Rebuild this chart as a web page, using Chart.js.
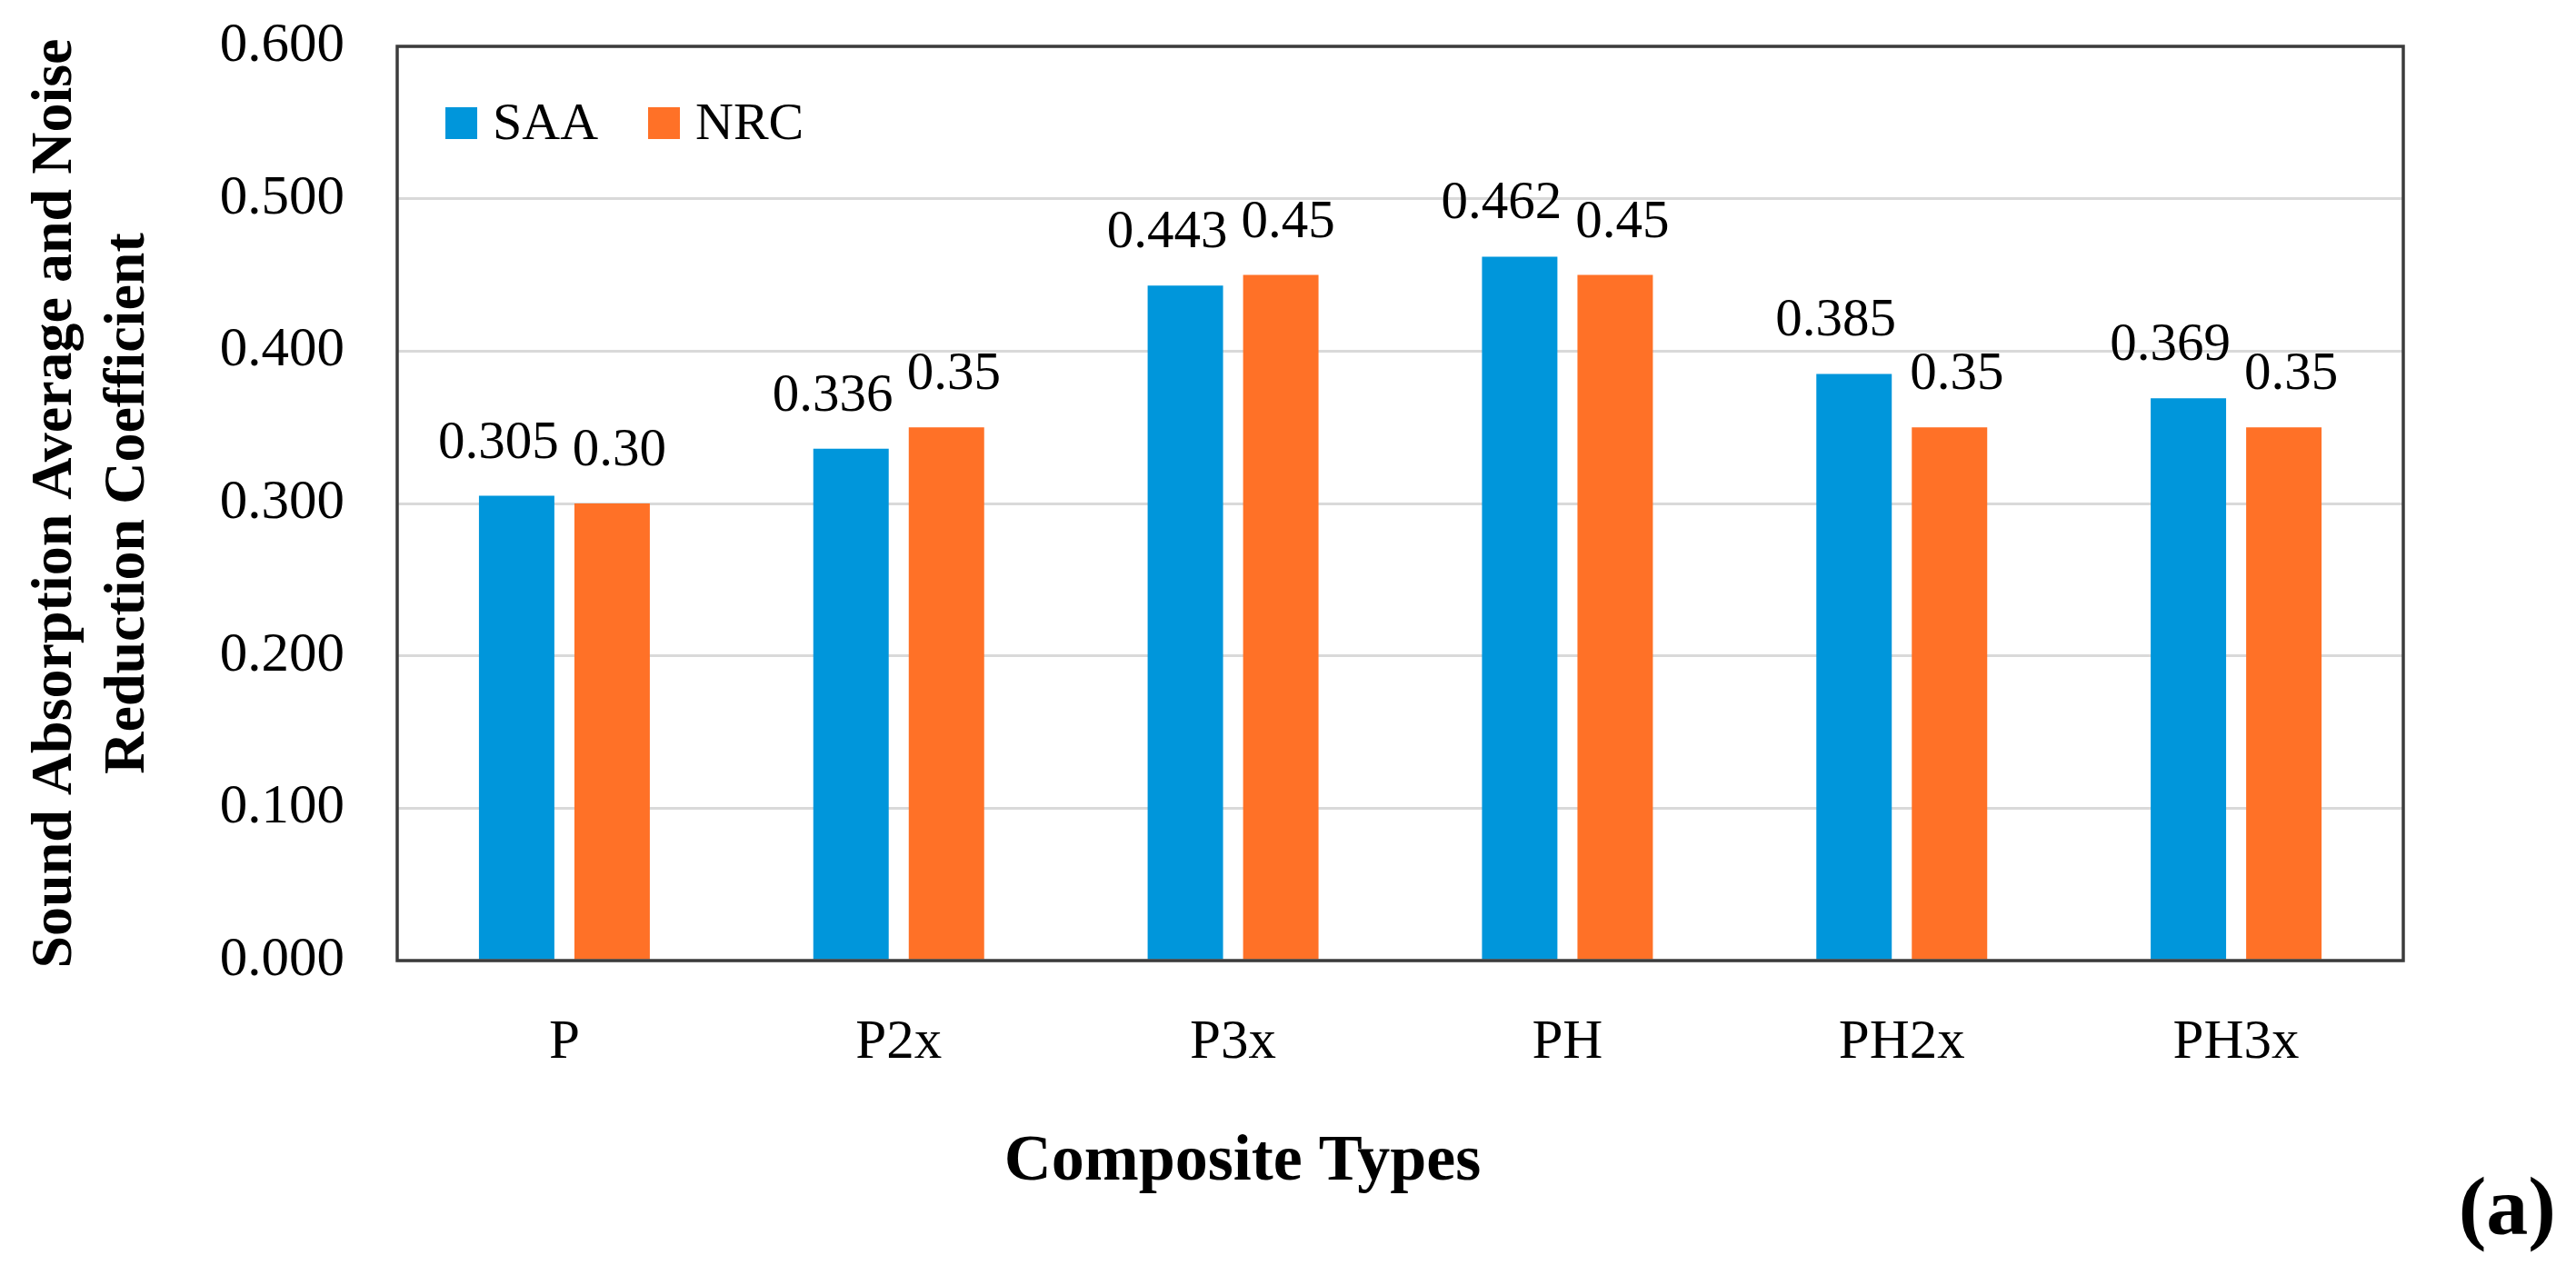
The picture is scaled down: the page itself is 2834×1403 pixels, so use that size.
<!DOCTYPE html>
<html lang="en">
<head>
<meta charset="UTF-8">
<title>Sound Absorption Average and Noise Reduction Coefficient</title>
<script src="https://cdn.jsdelivr.net/npm/chart.js"></script>
<style>
  html, body { margin: 0; padding: 0; background: #ffffff; }
  #wrap { width: 2834px; height: 1403px; }
</style>
</head>
<body>
<div id="wrap"><canvas id="chart" width="2834" height="1403"></canvas></div>
<script>
// data
const categories = ['P', 'P2x', 'P3x', 'PH', 'PH2x', 'PH3x'];
const saaValues = [0.305, 0.336, 0.443, 0.462, 0.385, 0.369];
const nrcValues = [0.30, 0.35, 0.45, 0.45, 0.35, 0.35];
const saaLabels = ['0.305', '0.336', '0.443', '0.462', '0.385', '0.369'];
const nrcLabels = ['0.30', '0.35', '0.45', '0.45', '0.35', '0.35'];
const yTickLabels = ['0.000', '0.100', '0.200', '0.300', '0.400', '0.500', '0.600'];

const SERIF = '"Liberation Serif", "Times New Roman", serif';
const BLUE = '#0096db';
const ORANGE = '#ff7127';

// value labels above each bar
const valueLabels = {
    id: 'valueLabels',
    afterDatasetsDraw(chart) {
        const ctx = chart.ctx;
        ctx.save();
        ctx.font = '59px ' + SERIF;
        ctx.fillStyle = '#000';
        ctx.textAlign = 'center';
        ctx.textBaseline = 'alphabetic';
        chart.data.datasets.forEach((ds, di) => {
            const meta = chart.getDatasetMeta(di);
            meta.data.forEach((bar, i) => {
                ctx.fillText(ds.valueText[i], bar.x + ds.labelShift, bar.y - 42);
            });
        });
        ctx.restore();
    }
};

// dark frame round the plot area
const plotFrame = {
    id: 'plotFrame',
    afterDatasetsDraw(chart) {
        const { left, top, right, bottom } = chart.chartArea;
        const ctx = chart.ctx;
        ctx.save();
        ctx.strokeStyle = '#3c3c3c';
        ctx.lineWidth = 3.5;
        ctx.strokeRect(left, top, right - left, bottom - top);
        ctx.restore();
    }
};

// legend drawn inside the plot, top left
const innerLegend = {
    id: 'innerLegend',
    afterDraw(chart) {
        const ctx = chart.ctx;
        const area = chart.chartArea;
        let x = area.left + 53;
        const y = area.top + 67;
        ctx.save();
        ctx.font = '58px ' + SERIF;
        ctx.textBaseline = 'alphabetic';
        ctx.textAlign = 'left';
        chart.data.datasets.forEach(ds => {
            ctx.fillStyle = ds.backgroundColor;
            ctx.fillRect(x, y, 35, 35);
            ctx.fillStyle = '#000';
            ctx.fillText(ds.label, x + 52, y + 35);
            x += 223;
        });
        ctx.restore();
    }
};

// x axis title (left of centre in the original) and panel tag
const extraText = {
    id: 'extraText',
    afterDraw(chart) {
        const ctx = chart.ctx;
        ctx.save();
        ctx.fillStyle = '#000';
        ctx.textBaseline = 'alphabetic';
        ctx.font = 'bold 72px ' + SERIF;
        ctx.textAlign = 'center';
        ctx.fillText('Composite Types', 1367, 1298);
        ctx.font = 'bold 92px ' + SERIF;
        ctx.textAlign = 'right';
        ctx.fillText('(a)', 2812, 1358);
        ctx.restore();
    }
};

const ctx = document.getElementById('chart').getContext('2d');
const chart = new Chart(ctx, {
    type: 'bar',
    data: {
        labels: categories,
        datasets: [
            {
                label: 'SAA',
                data: saaValues,
                valueText: saaLabels,
                labelShift: -20,
                backgroundColor: BLUE,
                borderWidth: 0
            },
            {
                label: 'NRC',
                data: nrcValues,
                valueText: nrcLabels,
                labelShift: 8,
                backgroundColor: ORANGE,
                borderWidth: 0
            }
        ]
    },
    options: {
        responsive: false,
        maintainAspectRatio: false,
        animation: false,
        devicePixelRatio: 1,
        categoryPercentage: 0.571,
        barPercentage: 0.79,
        layout: { padding: { top: 51, right: 190, bottom: 0, left: 0 } },
        plugins: {
            legend: { display: false },
            tooltip: { enabled: false }
        },
        scales: {
            x: {
                grid: { display: false, drawTicks: false },
                border: { display: false },
                ticks: {
                    color: '#000',
                    padding: 54,
                    font: { family: SERIF, size: 61 }
                },
                afterFit(scale) { scale.height = 346; }
            },
            y: {
                min: 0,
                max: 0.6,
                grid: { color: '#d9d9d9', lineWidth: 3, drawTicks: false },
                border: { display: false },
                ticks: {
                    stepSize: 0.1,
                    color: '#000',
                    padding: 58,
                    font: { family: SERIF, size: 61 },
                    callback: (v, i) => yTickLabels[i]
                },
                title: {
                    display: true,
                    text: ['Sound Absorption Average and Noise', 'Reduction Coefficient'],
                    color: '#000',
                    font: { family: SERIF, size: 64, weight: 'bold', lineHeight: 1.25 },
                    padding: { top: 21, bottom: 0 }
                },
                afterFit(scale) {
                    scale.width = 437;
                    // tick padding would otherwise push the plot top down
                    scale.paddingTop = 0;
                    scale.paddingBottom = 0;
                }
            }
        }
    },
    plugins: [plotFrame, valueLabels, innerLegend, extraText]
});
</script>
</body>
</html>
